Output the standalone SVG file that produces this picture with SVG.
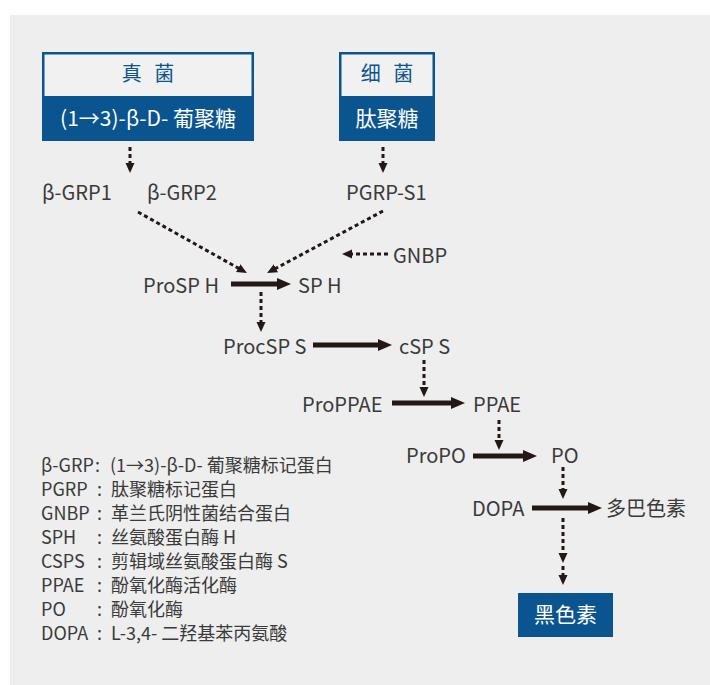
<svg xmlns="http://www.w3.org/2000/svg" width="710" height="685" viewBox="0 0 710 685">
<style>
text{font-family:"Noto Sans CJK SC","Noto Sans",sans-serif;fill:#3a3a3a}
.n{font-size:20px}
.lg{font-size:18px}
.bt{font-size:21px;fill:#ffffff}
.ht{font-size:20px;fill:#0a5490;letter-spacing:4px}
.dot{stroke:#231815;stroke-width:3;stroke-dasharray:4 3;fill:none;marker-end:url(#dh)}
.thk{stroke:#231815;stroke-width:5;fill:none;marker-end:url(#th)}
</style>
<defs>
<marker id="dh" markerUnits="userSpaceOnUse" markerWidth="10" markerHeight="10" refX="1" refY="4.5" orient="auto"><path d="M0,0 L10,4.5 L0,9 z" fill="#231815"/></marker>
<marker id="th" markerUnits="userSpaceOnUse" markerWidth="14" markerHeight="12" refX="1" refY="6" orient="auto"><path d="M0,0 L14,6 L0,12 z" fill="#231815"/></marker>
</defs>
<rect x="10" y="15" width="700" height="670" fill="#eeeeee"/>
<g id="fungus">
<rect x="43.25" y="53.25" width="209.5" height="86" fill="#f1f1f1" stroke="#0a5490" stroke-width="2.5"/>
<rect x="42" y="96" width="212" height="45" fill="#0a5490"/>
<text class="ht" x="150" y="81" text-anchor="middle">真 菌</text>
<text class="bt" x="148" y="126" text-anchor="middle">(1→3)-β-D- 葡聚糖</text>
</g>
<g id="bacteria">
<rect x="340.25" y="53.25" width="93.5" height="86" fill="#f1f1f1" stroke="#0a5490" stroke-width="2.5"/>
<rect x="339" y="96" width="96" height="45" fill="#0a5490"/>
<text class="ht" x="389" y="81" text-anchor="middle">细 菌</text>
<text class="bt" x="387" y="126" text-anchor="middle">肽聚糖</text>
</g>
<g id="bgrp1"><text class="n" x="42" y="200">β-GRP1</text></g>
<g id="bgrp2"><text class="n" x="147" y="200">β-GRP2</text></g>
<g id="pgrps1"><text class="n" x="346" y="200">PGRP-S1</text></g>
<g id="gnbp"><text class="n" x="393" y="263">GNBP</text></g>
<g id="prosph"><text class="n" x="143" y="293">ProSP H</text></g>
<g id="sph"><text class="n" x="298" y="293">SP H</text></g>
<g id="procsps"><text class="n" x="223" y="354">ProcSP S</text></g>
<g id="csps"><text class="n" x="399" y="354">cSP S</text></g>
<g id="proppae"><text class="n" x="302" y="412">ProPPAE</text></g>
<g id="ppae"><text class="n" x="473" y="412">PPAE</text></g>
<g id="propo"><text class="n" x="406" y="463">ProPO</text></g>
<g id="po"><text class="n" x="551" y="463">PO</text></g>
<g id="dopa"><text class="n" x="472" y="516">DOPA</text></g>
<g id="dopachrome"><text class="n" x="606" y="516">多巴色素</text></g>
<g id="melanin">
<rect x="518" y="593" width="95" height="44" fill="#0a5490"/>
<text class="bt" x="565.5" y="622" text-anchor="middle">黑色素</text>
</g>
<g id="connectors">
<line class="dot" x1="130" y1="147" x2="130" y2="164"/>
<line class="dot" x1="383" y1="147" x2="383" y2="164"/>
<line class="dot" x1="138" y1="212" x2="239.1" y2="268.6"/>
<line class="dot" x1="383" y1="211" x2="275" y2="268.8"/>
<line class="dot" x1="388" y1="254" x2="351" y2="254"/>
<line class="thk" x1="231" y1="284" x2="278" y2="284"/>
<line class="dot" x1="261" y1="292" x2="261" y2="323"/>
<line class="thk" x1="313" y1="345" x2="379" y2="345"/>
<line class="dot" x1="424" y1="360" x2="424" y2="388"/>
<line class="thk" x1="392" y1="403" x2="452" y2="403"/>
<line class="dot" x1="499" y1="420" x2="499" y2="441"/>
<line class="thk" x1="473" y1="456" x2="524" y2="456"/>
<line class="dot" x1="563" y1="467" x2="563" y2="490"/>
<line class="thk" x1="532" y1="508" x2="589" y2="508"/>
<line class="dot" x1="563" y1="518" x2="563" y2="554"/>
<line class="dot" x1="563" y1="566" x2="563" y2="576"/>
</g>
<g id="legend">
<text class="lg" x="41" y="472">β-GRP</text><text class="lg" x="95" y="472">:</text><text class="lg" x="110" y="472">(1→3)-β-D- 葡聚糖标记蛋白</text>
<text class="lg" x="41" y="496">PGRP</text><text class="lg" x="97" y="496">:</text><text class="lg" x="111" y="496">肽聚糖标记蛋白</text>
<text class="lg" x="41" y="520">GNBP</text><text class="lg" x="97" y="520">:</text><text class="lg" x="111" y="520">革兰氏阴性菌结合蛋白</text>
<text class="lg" x="41" y="544">SPH</text><text class="lg" x="97" y="544">:</text><text class="lg" x="111" y="544">丝氨酸蛋白酶 H</text>
<text class="lg" x="41" y="568">CSPS</text><text class="lg" x="97" y="568">:</text><text class="lg" x="111" y="568">剪辑域丝氨酸蛋白酶 S</text>
<text class="lg" x="41" y="592">PPAE</text><text class="lg" x="97" y="592">:</text><text class="lg" x="111" y="592">酚氧化酶活化酶</text>
<text class="lg" x="41" y="616">PO</text><text class="lg" x="97" y="616">:</text><text class="lg" x="111" y="616">酚氧化酶</text>
<text class="lg" x="41" y="640">DOPA</text><text class="lg" x="97" y="640">:</text><text class="lg" x="111" y="640">L-3,4- 二羟基苯丙氨酸</text>
</g>
</svg>
